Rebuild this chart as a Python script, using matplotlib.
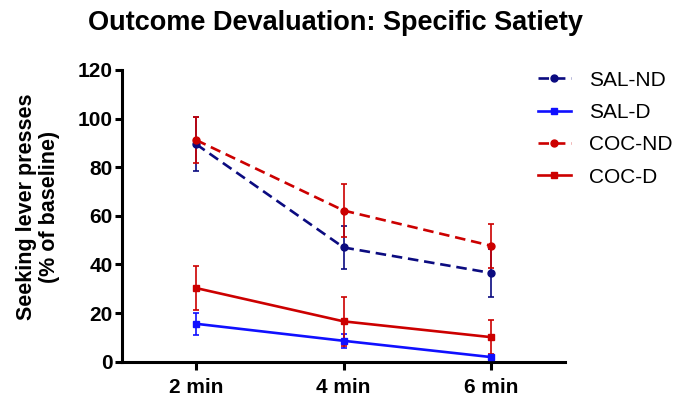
import numpy as np
import matplotlib.pyplot as plt

plt.rcParams['font.family'] = ['Liberation Sans', 'DejaVu Sans']

times = [2, 4, 6]
time_labels = ['2 min', '4 min', '6 min']

sal_nd = [89.5, 47, 36.5]
sal_nd_err = [11, 9, 10]
sal_d = [15.6, 8.6, 1.9]
sal_d_err = [4.5, 2.8, 1]
coc_nd = [91.2, 62.2, 47.7]
coc_nd_err = [9.5, 11, 9]
coc_d = [30.3, 16.6, 10.1]
coc_d_err = [9, 10, 7]

series = [
    ('SAL-ND', sal_nd, sal_nd_err, '#0b0b80', 'o', True),
    ('SAL-D', sal_d, sal_d_err, '#1010ff', 's', False),
    ('COC-ND', coc_nd, coc_nd_err, '#cc0000', 'o', True),
    ('COC-D', coc_d, coc_d_err, '#cc0000', 's', False),
]

fig = plt.figure(figsize=(6.84, 3.97), dpi=100)
ax = fig.add_axes([0.1788, 0.0889, 0.647, 0.7348])

for name, vals, errs, col, mk, dashed in series:
    ax.errorbar(times, vals, yerr=errs, fmt='none', ecolor=col,
                elinewidth=1.2, capsize=2, capthick=1.2, zorder=2)
    ls = (0, (4, 2.2)) if dashed else '-'
    ax.plot(times, vals, color=col, lw=1.9, ls=ls, marker=mk,
            markersize=4.5 if mk == 's' else 5, label=name, zorder=3)

ax.set_xlim(1, 7)
ax.set_ylim(0, 120)
ax.set_xticks(times)
ax.set_xticklabels(time_labels, fontsize=15, fontweight='bold')
ax.set_yticks(np.arange(0, 121, 20))
ax.tick_params(axis='y', labelsize=15, width=2.2, length=5, pad=2)
ax.tick_params(axis='x', width=2.2, length=6, pad=6)
for lab in ax.get_yticklabels():
    lab.set_fontweight('bold')

ax.spines['top'].set_visible(False)
ax.spines['right'].set_visible(False)
ax.spines['left'].set_linewidth(2.2)
ax.spines['bottom'].set_linewidth(2.2)

fig.text(0.056, 0.48, 'Seeking lever presses\n(% of baseline)', rotation=90,
         ha='center', va='center', fontsize=15.5, fontweight='bold',
         linespacing=1.12)
fig.text(0.49, 0.942, 'Outcome Devaluation: Specific Satiety', ha='center',
         va='center', fontsize=19.5, fontweight='bold')

ax.legend(loc='upper left', bbox_to_anchor=(0.786, 0.822),
          bbox_transform=fig.transFigure, frameon=False, fontsize=15,
          handlelength=1.6, handletextpad=0.85, labelspacing=0.64,
          borderaxespad=0, borderpad=0)

fig.savefig('out.png', dpi=100)
